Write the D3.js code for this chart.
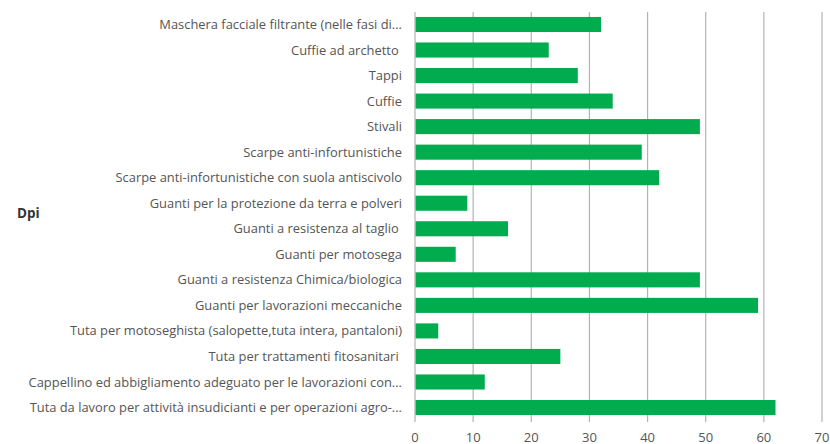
<!DOCTYPE html>
<html><head><meta charset="utf-8">
<script src="https://cdn.jsdelivr.net/npm/d3@7"></script>
<style>
html,body{margin:0;padding:0;background:#fff;}
svg{display:block;}
</style></head>
<body>
<svg id="chart" width="830" height="444"></svg>
<script>
const categories = [
  "Maschera facciale filtrante (nelle fasi di...",
  "Cuffie ad archetto ",
  "Tappi",
  "Cuffie",
  "Stivali",
  "Scarpe anti-infortunistiche",
  "Scarpe anti-infortunistiche con suola antiscivolo",
  "Guanti per la protezione da terra e polveri",
  "Guanti a resistenza al taglio ",
  "Guanti per motosega",
  "Guanti a resistenza Chimica/biologica",
  "Guanti per lavorazioni meccaniche",
  "Tuta per motoseghista (salopette,tuta intera, pantaloni)",
  "Tuta per trattamenti fitosanitari ",
  "Cappellino ed abbigliamento adeguato per le lavorazioni con...",
  "Tuta da lavoro per attività insudicianti e per operazioni agro-..."
];
const values = [32, 23, 28, 34, 49, 39, 42, 9, 16, 7, 49, 59, 4, 25, 12, 62];
const xTicks = [0, 10, 20, 30, 40, 50, 60, 70];
const axisTitle = "Dpi";

const svg = d3.select("#chart");
const font = "'Open Sans', 'Noto Sans', sans-serif";

const x = d3.scaleLinear().domain([0, 70]).range([415, 822]);
const y = d3.scaleBand().domain(categories).range([11.7, 420.3]).paddingInner(0.41).paddingOuter(0.205);

// gridlines
svg.append("g").selectAll("line").data(xTicks).join("line")
  .attr("x1", d => x(d)).attr("x2", d => x(d))
  .attr("y1", 12).attr("y2", 422)
  .attr("stroke", "#b3b3b3").attr("stroke-width", 1.2);

// bars
svg.append("g").selectAll("rect").data(values).join("rect")
  .attr("x", x(0) + 0.6)
  .attr("y", (d, i) => y(categories[i]))
  .attr("width", d => x(d) - x(0) - 0.6)
  .attr("height", y.bandwidth())
  .attr("fill", "#00ac4e");

// category labels
svg.append("g").selectAll("text").data(categories).join("text")
  .attr("x", 402)
  .attr("y", d => y(d) + y.bandwidth() / 2)
  .attr("dy", "0.35em")
  .attr("text-anchor", "end")
  .style("white-space", "pre")
  .attr("font-family", font)
  .attr("font-size", 12.9)
  .attr("fill", "#555")
  .text(d => d);

// x tick labels
svg.append("g").selectAll("text").data(xTicks).join("text")
  .attr("x", d => x(d))
  .attr("y", 437.5)
  .attr("dy", "0.35em")
  .attr("text-anchor", "middle")
  .attr("font-family", font)
  .attr("font-size", 13)
  .attr("fill", "#555")
  .text(d => d);

// axis title
svg.append("text")
  .attr("x", 17).attr("y", 213).attr("dy", "0.35em")
  .attr("font-family", font).attr("font-size", 13.5).attr("font-weight", "bold")
  .attr("fill", "#333")
  .text(axisTitle);
</script>
</body></html>
